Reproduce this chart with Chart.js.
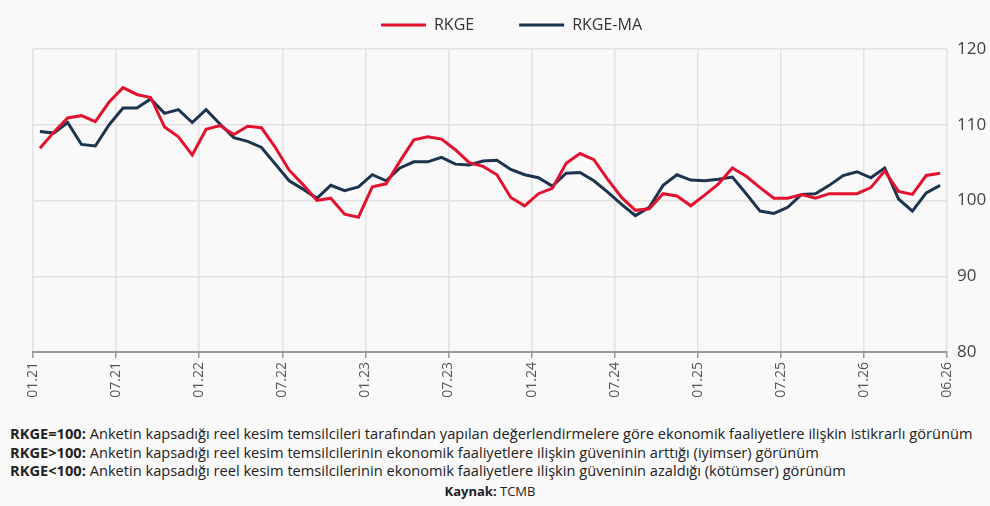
<!DOCTYPE html>
<html lang="tr">
<head>
<meta charset="utf-8">
<title>RKGE</title>
<script src="https://cdn.jsdelivr.net/npm/chart.js@4"></script>
<style>
  html, body { margin: 0; padding: 0; background: #f9f9f9; }
  body { width: 990px; height: 506px; position: relative; overflow: hidden; font-family: "Open Sans", sans-serif; color: #222; }
  #wrap { position: absolute; left: 0; top: 0; width: 990px; height: 415px; }
  .note { position: absolute; left: 10px; font-size: 14.65px; white-space: nowrap; line-height: 18px; }
  .note b { font-weight: 700; }
  #src { position: absolute; left: 0; width: 980px; text-align: center; top: 482px; font-size: 13px; line-height: 18px; }
</style>
</head>
<body>
<div id="wrap"><canvas id="chart" width="990" height="415"></canvas></div>
<div class="note" style="top:424px"><b>RKGE=100:</b> Anketin kapsadığı reel kesim temsilcileri tarafından yapılan değerlendirmelere göre ekonomik faaliyetlere ilişkin istikrarlı görünüm</div>
<div class="note" style="top:443px"><b>RKGE&gt;100:</b> Anketin kapsadığı reel kesim temsilcilerinin ekonomik faaliyetlere ilişkin güveninin arttığı (iyimser) görünüm</div>
<div class="note" style="top:461px"><b>RKGE&lt;100:</b> Anketin kapsadığı reel kesim temsilcilerinin ekonomik faaliyetlere ilişkin güveninin azaldığı (kötümser) görünüm</div>
<div id="src"><b>Kaynak:</b> TCMB</div>
<script>
// monthly, 01.21 .. 06.26
const months = [];
for (let y = 21; y <= 26; y++) {
  for (let m = 1; m <= 12; m++) {
    if (y === 26 && m > 6) break;
    months.push(String(m).padStart(2, "0") + "." + y);
  }
}

const rkge = [
  106.9, 109.0, 110.9, 111.2, 110.4, 113.0, 114.9, 114.0, 113.6, 109.7, 108.4, 106.0,
  109.4, 109.9, 108.7, 109.8, 109.6, 107.0, 104.0, 102.1, 100.0, 100.3, 98.2, 97.8,
  101.8, 102.2, 105.2, 108.0, 108.4, 108.1, 106.7, 105.0, 104.5, 103.4, 100.4, 99.3,
  100.9, 101.6, 104.9, 106.2, 105.4, 102.8, 100.4, 98.7, 98.9, 100.9, 100.6, 99.3,
  100.7, 102.2, 104.3, 103.2, 101.7, 100.3, 100.3, 100.8, 100.3, 100.9, 100.9, 100.9,
  101.7, 103.9, 101.2, 100.8, 103.3, 103.6
];

const rkgeMa = [
  109.1, 108.9, 110.3, 107.4, 107.2, 110.0, 112.2, 112.2, 113.4, 111.5, 112.0, 110.3,
  112.0, 110.1, 108.3, 107.8, 107.0, 104.8, 102.6, 101.5, 100.3, 102.0, 101.3, 101.8,
  103.4, 102.6, 104.3, 105.1, 105.1, 105.7, 104.8, 104.7, 105.2, 105.3, 104.1, 103.4,
  103.0, 101.9, 103.6, 103.7, 102.6, 101.1, 99.5, 98.0, 99.1, 102.0, 103.4, 102.7,
  102.6, 102.8, 103.1, 100.9, 98.6, 98.3, 99.1, 100.8, 100.9, 102.0, 103.3, 103.8,
  103.0, 104.3, 100.2, 98.6, 101.0, 102.0
];

const tickLabels = ["01.21", "07.21", "01.22", "07.22", "01.23", "07.23", "01.24", "07.24", "01.25", "07.25", "01.26", "06.26"];
const yTicks = [80, 90, 100, 110, 120];

// ticks sit at the start of each month; the last label closes the axis
const xMin = -0.5, xMax = months.length - 0.5;
const tickPos = tickLabels.map((l, k) => k === tickLabels.length - 1 ? xMax : months.indexOf(l) - 0.5);

const toPoints = arr => arr.map((v, i) => ({ x: i, y: v }));

// legend box: keep item near the top, chart area starting under it
const legendFix = {
  id: "legendFix",
  beforeLayout(chart) {
    const lg = chart.legend;
    if (!lg || lg._fixed) return;
    const fit = lg.fit;
    lg.fit = function () { fit.call(this); this.height = 77; };
    lg._fixed = true;
  }
};

new Chart(document.getElementById("chart"), {
  type: "line",
  data: {
    datasets: [
      { label: "RKGE", data: toPoints(rkge), borderColor: "#e2122f", backgroundColor: "#e2122f", borderWidth: 3, pointRadius: 0, tension: 0 },
      { label: "RKGE-MA", data: toPoints(rkgeMa), borderColor: "#1c344d", backgroundColor: "#1c344d", borderWidth: 3, pointRadius: 0, tension: 0 }
    ]
  },
  options: {
    responsive: false,
    animation: false,
    devicePixelRatio: 1,
    layout: { padding: { left: 33, right: 0, top: -28, bottom: 0 } },
    plugins: {
      tooltip: { enabled: false },
      legend: {
        position: "top",
        labels: {
          usePointStyle: true,
          pointStyle: "line",
          pointStyleWidth: 45,
          padding: 45,
          color: "#333",
          font: { family: "Open Sans", size: 16 }
        }
      }
    },
    scales: {
      x: {
        type: "linear",
        min: xMin,
        max: xMax,
        afterBuildTicks: s => { s.ticks = tickPos.map(v => ({ value: v })); },
        afterFit: s => { s.height = 63; },
        ticks: {
          autoSkip: false,
          minRotation: 90,
          maxRotation: 90,
          padding: 4,
          color: "#555",
          font: { family: "Open Sans", size: 14 },
          callback: v => tickLabels[tickPos.indexOf(v)]
        },
        grid: { color: "#e2e2e2", lineWidth: 1.5, tickLength: 6, tickColor: "#999" },
        border: { color: "#999", width: 2 }
      },
      y: {
        position: "right",
        min: 80,
        max: 120,
        afterBuildTicks: s => { s.ticks = yTicks.map(v => ({ value: v })); },
        afterFit: s => { s.width = 43; },
        ticks: { padding: 10, color: "#444", font: { family: "Open Sans", size: 17 } },
        grid: { color: "#e2e2e2", lineWidth: 1.5, drawTicks: false },
        border: { display: false }
      }
    }
  },
  plugins: [legendFix]
});
</script>
</body>
</html>
